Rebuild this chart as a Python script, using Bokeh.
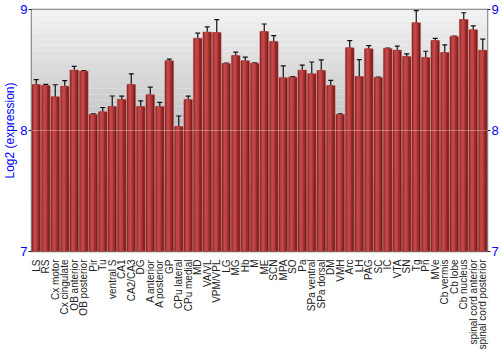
import math
from bokeh.plotting import figure
from bokeh.models import (ColumnDataSource, FactorRange, Range1d, LinearAxis, FixedTicker,
                          Whisker, TeeHead, BoxAnnotation)
from bokeh.transform import dodge
from bokeh.embed import file_html
from bokeh.resources import INLINE

regions = ["LS", "RS", "Cx motor", "Cx cingulate", "OB anterior", "OB posterior", "Pir", "Tu",
           "ventral S", "CA1", "CA2/CA3", "DG", "A anterior", "A posterior", "GP", "CPu lateral",
           "CPu medial", "MD", "VA/VL", "VPM/VPL", "LG", "MG", "Hb", "M",
           "ME", "SCN", "MPA", "SO", "Pa", "SPa ventral", "SPa dorsal", "DM",
           "VMH", "Arc", "LH", "PAG", "SC", "IC", "VTA", "SN",
           "Tg", "Pn", "MVe", "Cb vermis", "Cb lobe", "Cb nucleus", "spinal cord anterior",
           "spinal cord posterior"]
expression = [8.38, 8.372, 8.278, 8.366, 8.50, 8.49, 8.132, 8.154,
              8.198, 8.256, 8.38, 8.198, 8.295, 8.198, 8.576, 8.033,
              8.256, 8.763, 8.815, 8.81, 8.554, 8.62, 8.576, 8.556,
              8.818, 8.736, 8.435, 8.441, 8.50, 8.468, 8.496, 8.372,
              8.132, 8.683, 8.446, 8.675, 8.438, 8.678, 8.664, 8.612,
              8.89, 8.603, 8.744, 8.645, 8.777, 8.917, 8.832, 8.664]
error = [0.04, 0.01, 0.1, 0.047, 0.03, 0.005, 0.005, 0.036,
         0.087, 0.028, 0.088, 0.047, 0.063, 0.034, 0.014, 0.087,
         0.028, 0.041, 0.041, 0.107, 0.004, 0.028, 0.03, 0.004,
         0.062, 0.048, 0.099, 0.004, 0.04, 0.098, 0.087, 0.043,
         0.005, 0.059, 0.14, 0.026, 0.004, 0.004, 0.033, 0.022,
         0.10, 0.052, 0.017, 0.062, 0.004, 0.056, 0.032, 0.091]
y_ticks = [7, 8, 9]
y_min, y_max = 7, 9

src = ColumnDataSource(dict(
    x=regions, top=expression,
    upper=[v + e for v, e in zip(expression, error)],
    lower=[v - e for v, e in zip(expression, error)],
))

p = figure(frame_width=456, frame_height=242,
           x_range=FactorRange(factors=regions, range_padding=0),
           y_range=Range1d(y_min, y_max), output_backend="svg", toolbar_location=None,
           min_border_left=26, min_border_right=10, min_border_top=9, min_border_bottom=4)

p.background_fill_color = None
p.border_fill_color = "white"
p.outline_line_color = "#777777"
p.outline_line_width = 1.5

# background vertical gradient
n = 40
for i in range(n):
    t = i / n
    lo = y_min + (y_max - y_min) * t
    hi = y_min + (y_max - y_min) * (i + 1) / n
    g = int(145 + (243 - 145) * (t + 0.5 / n))
    col = "#%02x%02x%02x" % (g, g, g)
    p.add_layout(BoxAnnotation(bottom=lo, top=hi, fill_color=col, fill_alpha=1.0,
                               line_color=None, level="underlay"))

# bars with a horizontal shading
p.vbar(x="x", top="top", bottom=y_min, width=0.92, source=src, fill_color="#7c1c1c",
       line_color="#c46060", line_alpha=0.6, line_width=0.8)
p.vbar(x=dodge("x", -0.06, range=p.x_range), top="top", bottom=y_min, width=0.70, source=src,
       fill_color="#982a2a", line_color=None)
p.vbar(x=dodge("x", -0.10, range=p.x_range), top="top", bottom=y_min, width=0.48, source=src,
       fill_color="#b03a3a", line_color=None)
p.vbar(x=dodge("x", -0.12, range=p.x_range), top="top", bottom=y_min, width=0.26, source=src,
       fill_color="#c24848", line_color=None)

w = Whisker(source=src, base="x", upper="upper", lower="lower", line_color="#111111",
            line_width=1.2,
            upper_head=TeeHead(size=5, line_color="#111111", line_width=1.2),
            lower_head=TeeHead(size=5, line_color="#111111", line_width=1.2))
p.add_layout(w)

# grid
p.xgrid.grid_line_color = None
p.ygrid.ticker = FixedTicker(ticks=[8])
p.ygrid.grid_line_color = "white"
p.ygrid.grid_line_alpha = 0.3
p.ygrid.level = "overlay"

# y axis left
yax = p.yaxis[0]
yax.ticker = FixedTicker(ticks=y_ticks)
yax.axis_label = "Log2 (expression)"
yax.axis_label_text_color = "blue"
yax.axis_label_text_font = "Liberation Sans"
yax.axis_label_text_font_size = "12px"
yax.axis_label_text_font_style = "normal"
yax.axis_label_standoff = 0
yax.major_label_text_color = "blue"
yax.major_label_text_font = "Liberation Sans"
yax.major_label_text_font_size = "13px"
yax.major_label_standoff = 1
yax.major_tick_out = 3
yax.major_tick_in = 0
yax.minor_tick_line_color = None
yax.axis_line_color = None
yax.major_tick_line_color = "#222222"

rax = LinearAxis(ticker=FixedTicker(ticks=y_ticks))
rax.major_label_text_color = "blue"
rax.major_label_text_font = "Liberation Sans"
rax.major_label_text_font_size = "13px"
rax.major_label_standoff = 1
rax.major_tick_out = 3
rax.major_tick_in = 0
rax.minor_tick_line_color = None
rax.axis_line_color = None
rax.major_tick_line_color = "#222222"
p.add_layout(rax, "right")

# x axis
xax = p.xaxis[0]
xax.major_label_orientation = math.pi / 2
xax.major_label_text_font = "Liberation Sans"
xax.major_label_text_font_size = "10px"
xax.major_label_text_color = "#222222"
xax.major_label_standoff = 2
xax.major_tick_line_color = None
xax.axis_line_color = None

open("out.html", "w").write(file_html(p, INLINE))
